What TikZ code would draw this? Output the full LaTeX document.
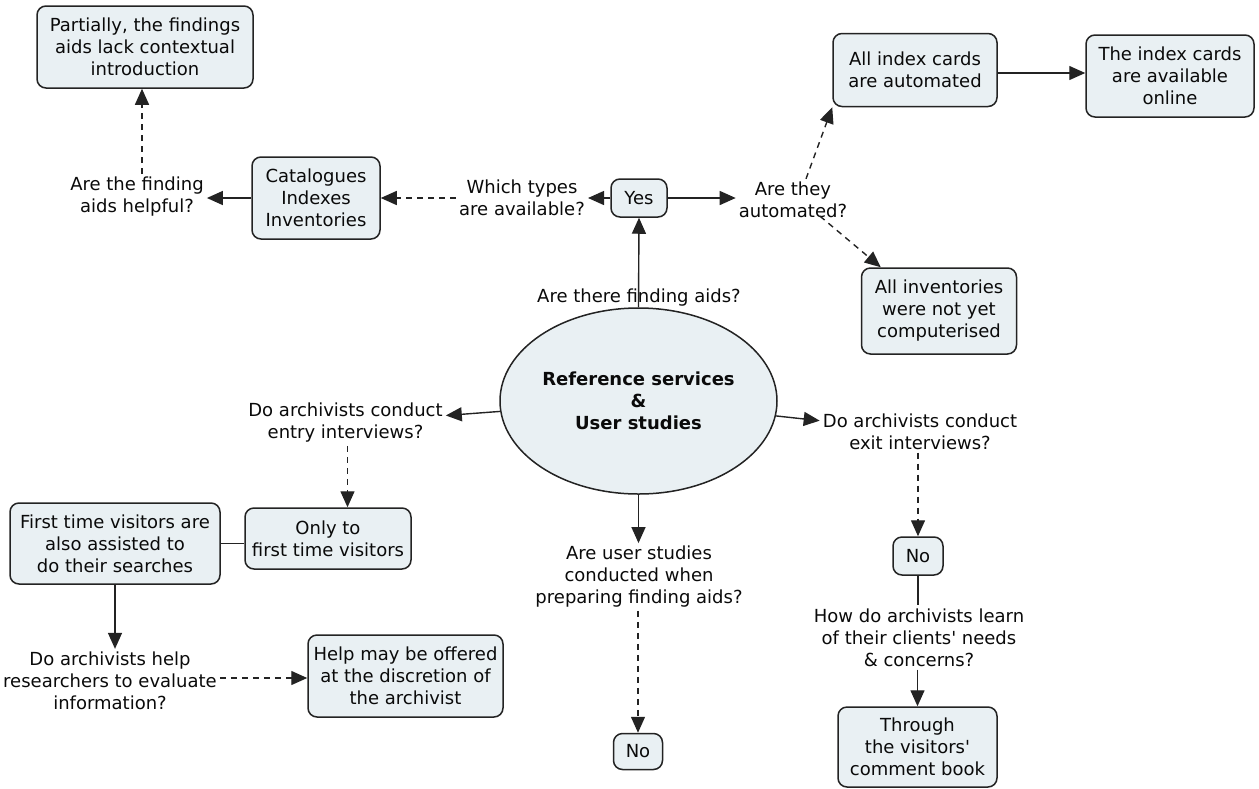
\documentclass[tikz,border=0pt]{standalone}
\usepackage{fontspec}
\setmainfont{DejaVu Sans}
\usetikzlibrary{arrows.meta,shapes.geometric}
\definecolor{conceptfill}{RGB}{233,240,243}
\definecolor{edge}{RGB}{35,35,35}
\definecolor{ink}{RGB}{10,10,10}
\begin{document}
\begin{tikzpicture}[x=1pt,y=-1pt,
  every node/.style={font=\fontsize{18}{22}\selectfont, text=ink},
  cbox/.style={draw=edge, fill=conceptfill, line width=1.5pt, rounded corners=9pt,
               align=center, inner sep=0pt},
  phrase/.style={align=center, inner sep=3pt},
  link/.style={draw=edge, line width=1.4pt, -{Triangle[length=16pt,width=14pt]}},
  dlink/.style={link, dash pattern=on 6pt off 5pt},
  tie/.style={draw=edge, line width=1.4pt}]
\useasboundingbox (0,0) rectangle (1259,788);

% central concept
\node[ellipse, draw=edge, fill=conceptfill, line width=1.5pt, inner sep=0pt,
      minimum width=277pt, minimum height=186pt, align=center,
      font=\bfseries\fontsize{18}{22}\selectfont] (ell) at (638.5,401)
      {Reference services\\\&\\User studies};

% finding aids branch
\node[phrase] (finding) at (639,298) {Are there finding aids?};
\node[cbox, minimum width=56pt, minimum height=38pt] (yes) at (639,198) {Yes};
\node[phrase] (types) at (522,198) {Which types\\are available?};
\node[cbox, minimum width=128pt, minimum height=82pt] (cat) at (316,198)
      {Catalogues\\Indexes\\Inventories};
\node[phrase] (helpq) at (137,197) {Are the finding\\aids helpful?};
\node[cbox, minimum width=216pt, minimum height=82pt] (partial) at (145,47)
      {Partially, the findings\\aids lack contextual\\introduction};
\node[phrase] (auto) at (793,200) {Are they\\automated?};
\node[cbox, minimum width=164pt, minimum height=73pt] (idx) at (915,70)
      {All index cards\\are automated};
\node[cbox, minimum width=168pt, minimum height=82pt] (online) at (1170,76)
      {The index cards\\are available\\online};
\node[cbox, minimum width=155pt, minimum height=86pt] (inv) at (939,311)
      {All inventories\\were not yet\\computerised};

% entry interviews branch
\node[phrase] (entry) at (345.5,423) {Do archivists conduct\\entry interviews?};
\node[cbox, minimum width=166pt, minimum height=61pt] (only) at (328,538.5)
      {Only to\\first time visitors};
\node[cbox, minimum width=210pt, minimum height=81pt] (first) at (115,543.5)
      {First time visitors are\\also assisted to\\do their searches};
\node[phrase] (helpr) at (110,681) {Do archivists help\\researchers to evaluate\\information?};
\node[cbox, minimum width=195pt, minimum height=82pt] (help) at (405.5,676)
      {Help may be offered\\at the discretion of\\the archivist};

% user studies branch
\node[phrase] (userq) at (639,577) {Are user studies\\conducted when\\preparing finding aids?};
\node[cbox, minimum width=49pt, minimum height=36pt] (no1) at (638,751.5) {No};

% exit interviews branch
\node[phrase] (exitq) at (920,431.5) {Do archivists conduct\\exit interviews?};
\node[cbox, minimum width=50pt, minimum height=38pt] (no2) at (918,556) {No};
\node[phrase] (learn) at (919,637.5)
      {How do archivists learn\\of their clients\textquotesingle{} needs\\\& concerns?};
\node[cbox, minimum width=159pt, minimum height=80pt] (through) at (917.5,747)
      {Through\\the visitors\textquotesingle\\comment book};

% connectors
\draw[link] (ell.north) -- (yes.south);
\draw[link] (yes.west) -- (yes.west -| types.east);
\draw[dlink] (types.west |- cat.east) -- (cat.east);
\draw[link] (cat.west) -- (cat.west -| helpq.east);
\draw[dlink] ([xshift=5pt]helpq.north) -- ([xshift=5pt]helpq.north |- partial.south);
\draw[link] (yes.east) -- (yes.east -| auto.west);
\draw[dlink] ([xshift=13pt]auto.north) -- (idx.south west);
\draw[link] ([yshift=-3pt]idx.east) -- ([yshift=-3pt]idx.east -| online.west);
\draw[dlink] ([xshift=27pt,yshift=5pt]auto.south) -- ([xshift=20pt]inv.north west);

\draw[link] (ell) -- (entry);
\draw[dlink] ([xshift=2pt]entry.south) -- ([xshift=2pt]entry.south |- only.north);
\draw[tie] (first.east) -- (first.east -| only.west);
\draw[link] (first.south) -- (first.south |- helpr.north);
\draw[dlink] ([yshift=3pt]helpr.east) -- ([yshift=3pt]helpr.east -| help.west);

\draw[link] (ell.south) -- (ell.south |- userq.north);
\draw[dlink] (no1 |- userq.south) -- (no1.north);

\draw[link] (ell) -- (exitq);
\draw[dlink] (no2 |- exitq.south) -- (no2.north);
\draw[tie] (no2.south) -- (no2.south |- learn.north);
\draw[link] (through |- learn.south) -- (through.north);
\end{tikzpicture}
\end{document}
